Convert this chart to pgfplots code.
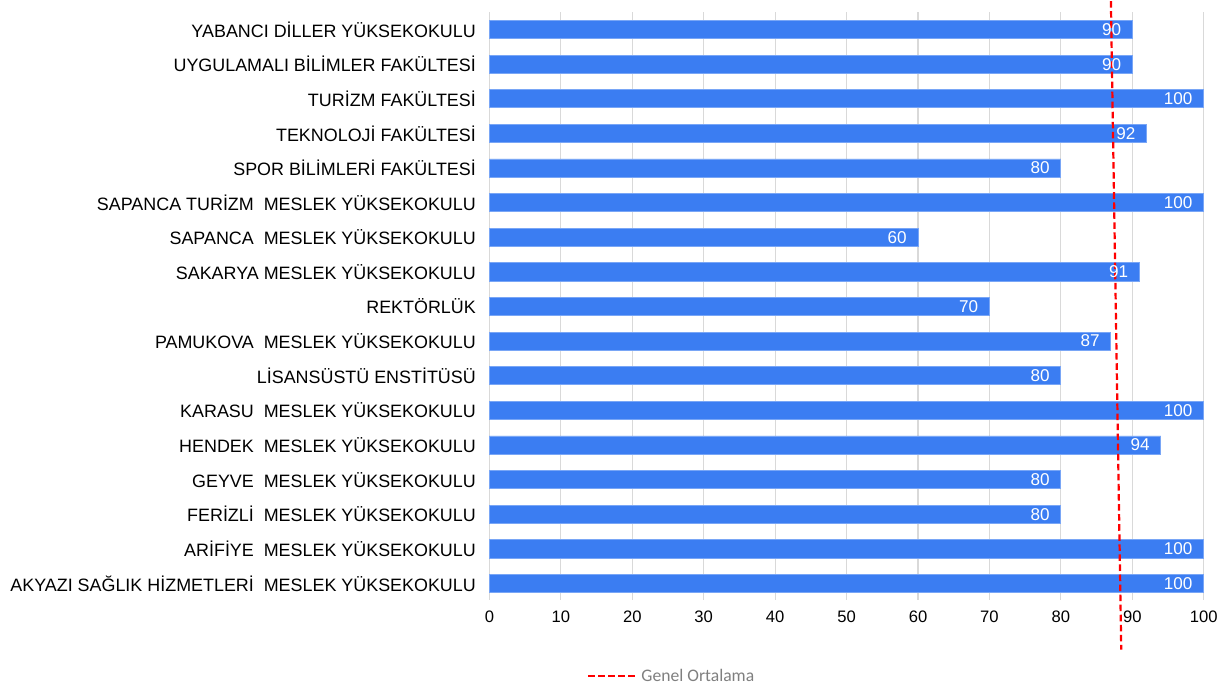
\documentclass[border=0pt]{standalone}
\usepackage{pgfplots}
\pgfplotsset{compat=1.18}
\usepackage{fontspec}
\setmainfont{Liberation Sans}
\newfontfamily\legfont{Carlito}
\definecolor{barFill}{HTML}{3B7DF2}
\definecolor{barEdge}{HTML}{79A6F6}
\definecolor{gridc}{HTML}{D9D9D9}
\definecolor{legc}{HTML}{7F7F7F}
\begin{document}
\begin{tikzpicture}
\begin{axis}[
  scale only axis,
  width=710pt, height=584pt,
  xmin=0, xmax=100, ymin=-0.47, ymax=16.5,
  clip=false,
  axis line style={draw=none},
  major tick length=0pt,
  xtick={0,10,...,100},
  xmajorgrids,
  major grid style={gridc, line width=1.2pt},
  ytick={0,...,16},
  yticklabels={
    AKYAZI SAĞLIK HİZMETLERİ~~MESLEK YÜKSEKOKULU,
    ARİFİYE~~MESLEK YÜKSEKOKULU,
    FERİZLİ~~MESLEK YÜKSEKOKULU,
    GEYVE~~MESLEK YÜKSEKOKULU,
    HENDEK~~MESLEK YÜKSEKOKULU,
    KARASU~~MESLEK YÜKSEKOKULU,
    LİSANSÜSTÜ ENSTİTÜSÜ,
    PAMUKOVA~~MESLEK YÜKSEKOKULU,
    REKTÖRLÜK,
    SAKARYA MESLEK YÜKSEKOKULU,
    SAPANCA~~MESLEK YÜKSEKOKULU,
    SAPANCA TURİZM~~MESLEK YÜKSEKOKULU,
    SPOR BİLİMLERİ FAKÜLTESİ,
    TEKNOLOJİ FAKÜLTESİ,
    TURİZM FAKÜLTESİ,
    UYGULAMALI BİLİMLER FAKÜLTESİ,
    YABANCI DİLLER YÜKSEKOKULU},
  yticklabel style={font=\fontsize{17.8}{20}\selectfont, xshift=-10pt},
  xticklabel style={font=\fontsize{16.5}{19}\selectfont, yshift=-8pt},
  /pgf/number format/assume math mode=true,
  legend style={at={(0.255,-0.13)}, anchor=center, draw=none, fill=none,
    font=\legfont\fontsize{17.5}{20}\selectfont, text=legc},
  legend image code/.code={\draw[#1] (0pt,0pt) -- (50pt,0pt);},
]
\addplot[xbar, bar width=18pt, draw=barEdge, line width=0.8pt, fill=barFill,
  forget plot,
  nodes near coords,
  nodes near coords style={anchor=east, text=white, xshift=-7.5pt,
    font=\fontsize{17}{19}\selectfont},
  /pgf/number format/assume math mode=true]
coordinates {
(100,0) (100,1) (80,2) (80,3) (94,4) (100,5) (80,6) (87,7) (70,8)
(91,9) (60,10) (100,11) (80,12) (92,13) (100,14) (90,15) (90,16)
};
\addplot[red, line width=2.2pt, dash pattern=on 6.5pt off 3.5pt]
coordinates {(87.0,16.82) (88.45,-1.91)};
\addlegendentry{Genel Ortalama}
\end{axis}
\path ([xshift=-7pt]current bounding box.north west) ([xshift=6pt]current bounding box.south east);
\end{tikzpicture}
\end{document}
